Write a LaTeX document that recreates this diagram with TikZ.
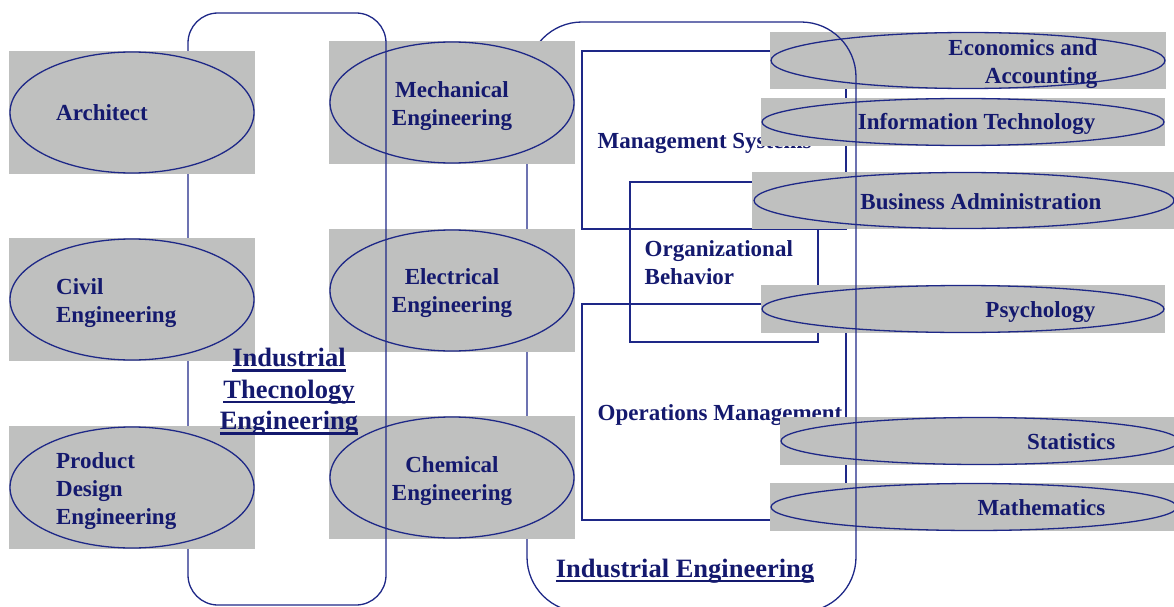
\documentclass[tikz,border=0pt]{standalone}
\usepackage{fontspec}
\setmainfont{Liberation Serif}
\usepackage{tikz}
\usetikzlibrary{shapes.geometric}
\definecolor{navy}{RGB}{30,40,135}
\definecolor{ink}{RGB}{20,25,110}
\definecolor{slab}{RGB}{191,192,191}
\newsavebox{\ulbox}
\newcommand{\ulword}[1]{\sbox{\ulbox}{#1}\rlap{\rule[-5pt]{\wd\ulbox}{2.4pt}}\usebox{\ulbox}}

\begin{document}
\begin{tikzpicture}[x=1pt, y=-1pt, line width=1.3pt,
	tile/.style={fill=slab, minimum width=246pt, minimum height=123pt, inner sep=0pt},
	oval/.style={ellipse, draw=navy, minimum width=244pt, minimum height=121pt, inner sep=0pt},
	frame/.style={draw=navy},
	lbl/.style={text=ink, font=\fontsize{23}{28}\selectfont\bfseries, inner sep=0pt},
	big/.style={text=ink, font=\fontsize{26.5}{31.5}\selectfont\bfseries, inner sep=0pt}]
	\useasboundingbox (0,0) rectangle (1174,607);
	% boxes inside industrial engineering
	\draw [frame] (582,51) rectangle (846,229);
	\draw [frame] (630,182) rectangle (818,342);
	\draw [frame] (582,304) rectangle (846,520);
	\node [lbl, anchor=west] (mansys) at (597,143.7) {Management Systems};
	\node [lbl, anchor=west, align=left] (orgbeh) at (644,263) {Organizational\\Behavior};
	\node [lbl, anchor=west] (opsman) at (597,415.5) {Operations Management};
	% right column
	\node [tile, minimum width=396pt, minimum height=57pt] (econ) at (968,60.5) {};
	\node [oval, minimum width=394pt, minimum height=56pt] (econo) at (econ) {};
	\node [lbl, anchor=east, align=right] (econt) at (1098,63.8) {Economics and\\Accounting};
	\node [tile, minimum width=404pt, minimum height=48pt] (info) at (963,122) {};
	\node [oval, minimum width=402pt, minimum height=47pt] (infoo) at (info) {};
	\node [lbl, anchor=east] (infot) at (1096,123.8) {Information Technology};
	\node [tile, minimum width=424pt, minimum height=57pt] (bus) at (964,200.5) {};
	\node [oval, minimum width=420pt, minimum height=56pt] (buso) at (bus) {};
	\node [lbl, anchor=east] (bust) at (1102,202) {Business Administration};
	\node [tile, minimum width=404pt, minimum height=48pt] (psy) at (963,309) {};
	\node [oval, minimum width=402pt, minimum height=47pt] (psyo) at (psy) {};
	\node [lbl, anchor=east] (psyt) at (1096,312.5) {Psychology};
	\node [tile, minimum width=400pt, minimum height=48pt] (stat) at (980,441) {};
	\node [oval, minimum width=398pt, minimum height=47pt] (stato) at (stat) {};
	\node [lbl, anchor=east] (statt) at (1116,441.5) {Statistics};
	\node [tile, minimum width=408pt, minimum height=48pt] (math) at (974,507) {};
	\node [oval, minimum width=406pt, minimum height=47pt] (matho) at (math) {};
	\node [lbl, anchor=east] (matht) at (1106,507.5) {Mathematics};
	\draw [frame, rounded corners=55pt] (527,22) rectangle (856,612);
	% middle column
	\node [tile] (mech) at (452,102.5) {};
	\node [oval] (mecho) at (mech) {};
	\node [lbl, align=center] (mecht) at (452,105.8) {Mechanical\\Engineering};
	\node [tile] (elec) at (452,290.5) {};
	\node [oval] (eleco) at (elec) {};
	\node [lbl, align=center] (elect) at (452,292.7) {Electrical\\Engineering};
	\node [tile] (chem) at (452,477.5) {};
	\node [oval] (chemo) at (chem) {};
	\node [lbl, align=center] (chemt) at (452,480.7) {Chemical\\Engineering};
	\draw [frame, rounded corners=30pt] (188,13) rectangle (386,605);
	% left column
	\node [tile] (arch) at (132,112.5) {};
	\node [oval] (archo) at (arch) {};
	\node [lbl, anchor=west] (archt) at (55.5,113) {Architect};
	\node [tile] (civ) at (132,299.5) {};
	\node [oval] (civo) at (civ) {};
	\node [lbl, anchor=west, align=left] (civt) at (55.5,302.7) {Civil\\Engineering};
	\node [tile] (prod) at (132,487.5) {};
	\node [oval] (prodo) at (prod) {};
	\node [lbl, anchor=west, align=left] (prodt) at (55.5,490.7) {Product\\Design\\Engineering};
	% titles
	\node [big, align=center] (itetitle) at (289,392) {\ulword{Industrial}\\\ulword{Thecnology}\\\ulword{Engineering}};
	\node [big] (ietitle) at (685,571) {\ulword{Industrial Engineering}};
\end{tikzpicture}
\end{document}
